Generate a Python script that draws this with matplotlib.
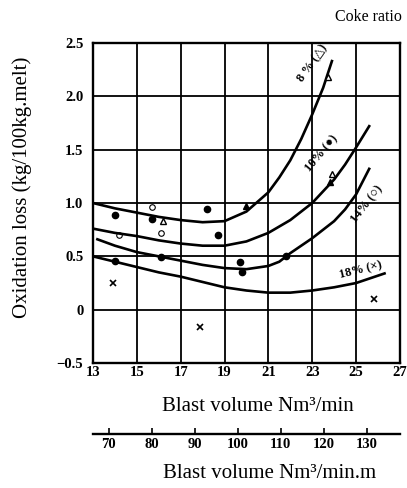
import matplotlib.pyplot as plt

plt.rcParams['font.family'] = ['Liberation Serif', 'DejaVu Sans']

# curves: coke ratio 8, 10, 14, 18 %
x8 = [13, 14, 15, 16, 17, 18, 19, 20, 21, 21.5, 22, 22.5, 23, 23.5, 23.9]
y8 = [1.00, 0.95, 0.91, 0.87, 0.84, 0.82, 0.83, 0.92, 1.10, 1.24, 1.40, 1.60, 1.83, 2.08, 2.33]
x10 = [13, 14, 15, 16, 17, 18, 19, 20, 21, 22, 23, 24, 24.5, 25, 25.6]
y10 = [0.76, 0.72, 0.69, 0.65, 0.62, 0.60, 0.60, 0.64, 0.72, 0.84, 1.00, 1.22, 1.36, 1.52, 1.72]
x14 = [13.2, 14, 15, 16, 17, 18, 19, 20, 21, 21.5, 22, 23, 24, 24.5, 25, 25.6]
y14 = [0.66, 0.60, 0.54, 0.50, 0.46, 0.42, 0.39, 0.38, 0.41, 0.45, 0.53, 0.67, 0.83, 0.94, 1.08, 1.32]
x18 = [13, 14, 15, 16, 17, 18, 19, 20, 21, 22, 23, 24, 25, 26.3]
y18 = [0.50, 0.45, 0.40, 0.35, 0.31, 0.26, 0.21, 0.18, 0.16, 0.16, 0.18, 0.21, 0.25, 0.34]

# measured points
dot_x = [14.0, 15.7, 18.2, 18.7, 16.1, 14.0, 19.7, 19.8, 21.8]
dot_y = [0.89, 0.85, 0.94, 0.70, 0.49, 0.46, 0.45, 0.35, 0.50]
tri_x = [20.0, 23.8]
tri_y = [0.97, 1.20]
otri_x = [23.7, 23.9, 16.2]
otri_y = [2.18, 1.27, 0.83]
circ_x = [15.7, 16.1, 14.2]
circ_y = [0.96, 0.72, 0.70]
cross_x = [13.9, 17.9, 25.8]
cross_y = [0.25, -0.16, 0.10]

curve_labels = ['8 % (\u25b3)', '10% (\u25cf)', '14% (\u25cb)', '18% (\u00d7)']

xticks = [13, 15, 17, 19, 21, 23, 25, 27]
yticks = [-0.5, 0, 0.5, 1.0, 1.5, 2.0, 2.5]
ylabels = ['\u22120.5', '0', '0.5', '1.0', '1.5', '2.0', '2.5']
ticks2 = [70, 80, 90, 100, 110, 120, 130]
ratio2 = 5.1  # Nm3/min -> Nm3/min.m

fig = plt.figure(figsize=(4.07, 4.88), dpi=100)
ax = fig.add_axes([0.2285, 0.256, 0.754, 0.656])

for xs, ys in [(x8, y8), (x10, y10), (x14, y14), (x18, y18)]:
    ax.plot(xs, ys, color='black', lw=1.9, zorder=3)

ax.plot(dot_x, dot_y, 'o', color='black', ms=4.5, zorder=4)
ax.plot(tri_x, tri_y, '^', color='black', ms=5, zorder=4)
ax.plot(otri_x, otri_y, '^', mfc='white', mec='black', mew=1, ms=5, zorder=4)
ax.plot(circ_x, circ_y, 'o', mfc='none', mec='black', mew=0.8, ms=4, zorder=4)
ax.plot(cross_x, cross_y, 'x', color='black', ms=4, mew=1.2, zorder=4)

lab_kw = dict(fontsize=9, fontweight='bold', ha='center', va='center', zorder=5)
ax.text(23.0, 2.31, curve_labels[0], rotation=55, **lab_kw)
ax.text(23.45, 1.46, curve_labels[1], rotation=50, **lab_kw)
ax.text(25.5, 0.99, curve_labels[2], rotation=52, **lab_kw)
ax.text(25.2, 0.37, curve_labels[3], rotation=14, **lab_kw)

ax.set_xlim(13, 27)
ax.set_ylim(-0.5, 2.5)
ax.set_xticks(xticks)
ax.set_yticks(yticks)
ax.set_yticklabels(ylabels)
ax.grid(True, color='black', lw=1.3)
ax.tick_params(length=0, labelsize=10.5)
ax.tick_params(axis='x', pad=2)
ax.tick_params(axis='y', pad=7)
for lab in ax.get_xticklabels() + ax.get_yticklabels():
    lab.set_fontweight('bold')
for sp in ax.spines.values():
    sp.set_linewidth(1.7)

ax.set_xlabel('Blast volume Nm\u00b3/min', fontsize=15)
ax.xaxis.set_label_coords(0.537, -0.105)
ax.set_ylabel('Oxidation loss (kg/100kg.melt)', fontsize=15)
ax.yaxis.set_label_coords(-0.20, 0.55)
fig.text(0.905, 0.965, 'Coke ratio', fontsize=11.5, ha='center', va='center')

# second scale below
ax2 = fig.add_axes([0.2285, 0.1107, 0.754, 0.0001])
ax2.set_xlim(13 * ratio2, 27 * ratio2)
ax2.set_xticks(ticks2)
ax2.set_yticks([])
for s in ['top', 'left', 'right']:
    ax2.spines[s].set_visible(False)
ax2.spines['bottom'].set_linewidth(1.7)
ax2.tick_params(axis='x', direction='in', length=4, width=1.2, labelsize=10.5, pad=3)
for lab in ax2.get_xticklabels():
    lab.set_fontweight('bold')
ax2.set_xlabel('Blast volume Nm\u00b3/min.m', fontsize=15)
ax2.xaxis.set_label_coords(270 / 407, 1 - 464 / 488, transform=fig.transFigure)

fig.savefig('out.png', dpi=100)
